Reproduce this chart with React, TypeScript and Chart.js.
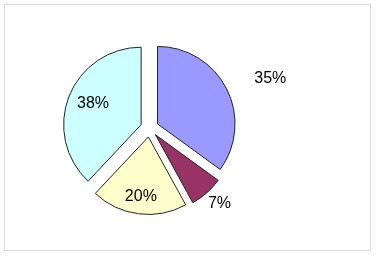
import React, { useEffect, useRef } from "react";
import { Chart, registerables } from "chart.js";

Chart.register(...registerables);

// Share of each segment, in percent (clockwise from 12 o'clock)
const categories = ["A", "B", "C", "D"];
const shares = [35, 7, 20, 38];
const sliceColors = ["#9999FF", "#993366", "#FFFFCC", "#CCFFFF"];

// Label placement: distance from the slice's own centre (in radii) and a small angular nudge (degrees)
const labelDistance = [1.57, 1.21, 0.775, 0.676];
const labelNudge = [5, -1.7, 0, 1.7];

const EXPLODE = 9;

// Pulls every slice out from the centre along its bisector
const explodePlugin = {
  id: "explodeSlices",
  afterDatasetsUpdate(chart: any) {
    const meta = chart.getDatasetMeta(0);
    meta.data.forEach((arc: any) => {
      const mid = (arc.startAngle + arc.endAngle) / 2;
      arc.x += Math.cos(mid) * EXPLODE;
      arc.y += Math.sin(mid) * EXPLODE;
    });
  },
};

// Percentage labels
const labelPlugin = {
  id: "shareLabels",
  afterDatasetsDraw(chart: any) {
    const ctx = chart.ctx;
    const meta = chart.getDatasetMeta(0);
    ctx.save();
    ctx.font = "16px 'Liberation Sans', Arial, sans-serif";
    ctx.fillStyle = "#000";
    ctx.textAlign = "center";
    ctx.textBaseline = "middle";
    meta.data.forEach((arc: any, i: number) => {
      const mid = (arc.startAngle + arc.endAngle) / 2 + (labelNudge[i] * Math.PI) / 180;
      const r = arc.outerRadius * labelDistance[i];
      ctx.fillText(`${shares[i]}%`, arc.x + Math.cos(mid) * r, arc.y + Math.sin(mid) * r);
    });
    ctx.restore();
  },
};

export default function App() {
  const ref = useRef<HTMLCanvasElement | null>(null);

  useEffect(() => {
    if (!ref.current) return;
    const chart = new Chart(ref.current, {
      type: "pie",
      data: {
        labels: categories,
        datasets: [
          {
            data: shares,
            backgroundColor: sliceColors,
            borderColor: "#222",
            borderWidth: 1,
          },
        ],
      },
      options: {
        responsive: false,
        animation: false,
        devicePixelRatio: 1,
        radius: 77.5,
        layout: { padding: { left: 0, right: 78, top: 0, bottom: 2 } },
        plugins: {
          legend: { display: false },
          tooltip: { enabled: false },
        },
      } as any,
      plugins: [explodePlugin, labelPlugin],
    });
    return () => chart.destroy();
  }, []);

  return (
    <div style={{ position: "fixed", left: 0, top: 0, width: 377, height: 258, background: "#fff" }}>
      <div
        style={{
          position: "absolute",
          left: 4,
          top: 4,
          width: 367,
          height: 247,
          boxSizing: "border-box",
          border: "1px solid #D9D9D9",
        }}
      />
      <canvas ref={ref} width={377} height={258} style={{ position: "absolute", left: 0, top: 0 }} />
    </div>
  );
}
